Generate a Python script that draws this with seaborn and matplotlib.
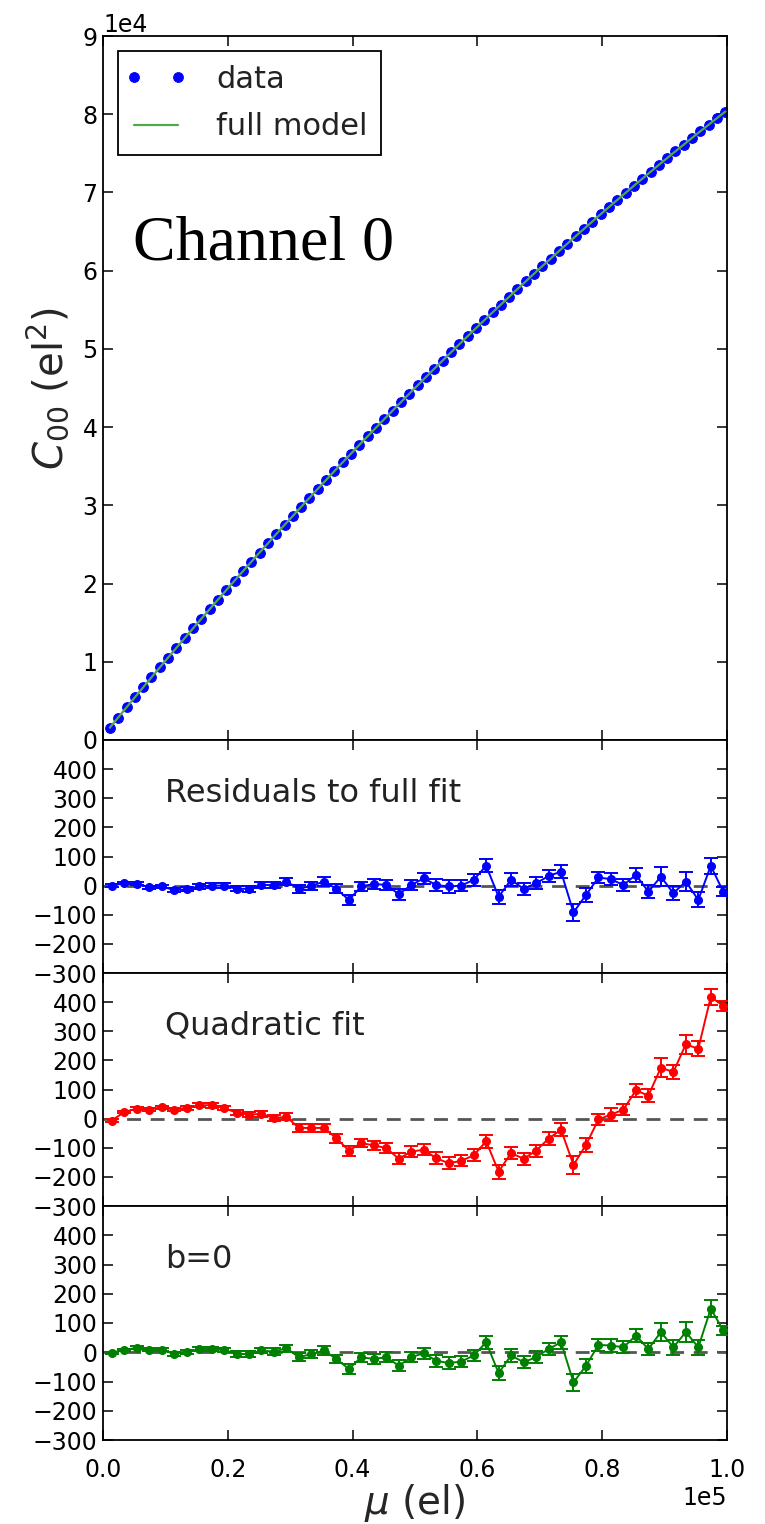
import numpy as np
import pandas as pd
import matplotlib
matplotlib.use("Agg")
import matplotlib.pyplot as plt
import seaborn as sns
from matplotlib.ticker import ScalarFormatter
from matplotlib.legend_handler import HandlerLine2D
from matplotlib.lines import Line2D

# ---------------- data ----------------
mu_data = [1100, 2430, 3770, 5100, 6430, 7770, 9100, 10430, 11760, 13100,
           14430, 15760, 17100, 18430, 19760, 21100, 22430, 23760, 25090, 26430,
           27760, 29090, 30430, 31760, 33090, 34430, 35760, 37090, 38420, 39760,
           41090, 42420, 43760, 45090, 46420, 47760, 49090, 50420, 51750, 53090,
           54420, 55750, 57090, 58420, 59750, 61090, 62420, 63750, 65080, 66420,
           67750, 69080, 70420, 71750, 73080, 74420, 75750, 77080, 78410, 79750,
           81080, 82410, 83750, 85080, 86410, 87750, 89080, 90410, 91740, 93080,
           94410, 95740, 97080, 98410, 99740]
c00_data = [1580, 2870, 4170, 5450, 6730, 8010, 9270, 10530, 11780, 13030,
            14270, 15500, 16730, 17950, 19160, 20380, 21580, 22770, 23960, 25140,
            26320, 27490, 28650, 29810, 30960, 32110, 33240, 34370, 35500, 36620,
            37730, 38830, 39940, 41030, 42110, 43200, 44270, 45340, 46390, 47460,
            48500, 49540, 50580, 51610, 52630, 53650, 54660, 55660, 56650, 57650,
            58630, 59610, 60590, 61550, 62510, 63460, 64410, 65340, 66280, 67210,
            68130, 69040, 69950, 70850, 71740, 72640, 73520, 74390, 75260, 76120,
            76980, 77830, 78670, 79510, 80340]
c00_model = [1580, 2870, 4170, 5450, 6730, 8010, 9270, 10530, 11780, 13030,
             14270, 15500, 16730, 17950, 19160, 20380, 21580, 22770, 23960, 25140,
             26320, 27490, 28650, 29810, 30960, 32110, 33240, 34370, 35500, 36620,
             37730, 38830, 39940, 41030, 42110, 43200, 44270, 45340, 46390, 47460,
             48500, 49540, 50580, 51610, 52630, 53650, 54660, 55660, 56650, 57650,
             58630, 59610, 60590, 61550, 62510, 63460, 64410, 65340, 66280, 67210,
             68130, 69040, 69950, 70850, 71740, 72640, 73520, 74390, 75260, 76120,
             76980, 77830, 78670, 79510, 80340]

mu_res = [1400, 3400, 5400, 7400, 9400, 11400, 13400, 15400, 17400, 19400,
          21400, 23400, 25400, 27400, 29400, 31400, 33400, 35400, 37400, 39400,
          41400, 43400, 45400, 47400, 49400, 51400, 53400, 55400, 57400, 59400,
          61400, 63400, 65400, 67400, 69400, 71400, 73400, 75400, 77400, 79400,
          81400, 83400, 85400, 87400, 89400, 91400, 93400, 95400, 97400, 99400]
res_full = [0, 8, 6, -5, -3, -15, -13, -3, 0, 0,
            -11, -11, 2, 2, 14, -11, -1, 14, -11, -49,
            -3, 6, 2, -29, 2, 25, 2, -3, 0, 20,
            68, -38, 20, -11, 8, 33, 48, -92, -32, 28,
            22, 2, 37, -21, 31, -26, 14, -49, 68, -21]
res_quad = [-7, 23, 34, 31, 39, 31, 37, 46, 46, 37,
            20, 14, 16, 2, 6, -32, -32, -32, -67, -110,
            -84, -92, -101, -138, -113, -107, -136, -153, -145, -126,
            -78, -182, -118, -138, -110, -69, -38, -159, -90, -3,
            14, 31, 97, 79, 175, 160, 255, 240, 418, 387]
res_b0 = [-2, 8, 15, 8, 9, -6, 0, 11, 11, 8,
          -6, -6, 6, 2, 14, -17, -6, 6, -23, -57,
          -17, -23, -17, -46, -17, -3, -29, -37, -32, -11,
          34, -71, -11, -34, -17, 11, 34, -103, -46, 25,
          23, 17, 57, 11, 69, 17, 69, 17, 149, 75]
res_err = [4, 4, 5, 5, 6, 6, 7, 7, 8, 8,
           9, 10, 10, 11, 12, 13, 13, 14, 15, 17,
           15, 16, 17, 19, 18, 19, 20, 21, 19, 20,
           22, 24, 22, 20, 21, 22, 23, 30, 24, 20,
           21, 20, 23, 22, 32, 25, 33, 26, 28, 16]

panel_titles = ["Residuals to full fit", "Quadratic fit", "b=0"]
panel_colors = ["blue", "red", "green"]
res_yticks = [-300, -200, -100, 0, 100, 200, 300, 400]
top_yticks = [0, 10000, 20000, 30000, 40000, 50000, 60000, 70000, 80000, 90000]
xticks = [0, 20000, 40000, 60000, 80000, 100000]

# ---------------- style ----------------
sns.set_style("ticks")
plt.rcParams["font.family"] = ["DejaVu Sans"]
plt.rcParams["mathtext.fontset"] = "dejavusans"
plt.rcParams["axes.linewidth"] = 1.3
plt.rcParams["axes.edgecolor"] = "black"
plt.rcParams["xtick.color"] = "black"
plt.rcParams["ytick.color"] = "black"
plt.rcParams["text.color"] = "#222222"
TICK_FS = 17

fig = plt.figure(figsize=(7.65, 15.24), dpi=100)
W = 765.0
H = 1524.0
left = 103 / W
width = 624 / W

def rect(top_px, bot_px):
    return [left, 1 - bot_px / H, width, (bot_px - top_px) / H]

ax0 = fig.add_axes(rect(36, 740))
axes_res = [fig.add_axes(rect(740, 973), sharex=ax0),
            fig.add_axes(rect(973, 1206), sharex=ax0),
            fig.add_axes(rect(1206, 1440), sharex=ax0)]

def style_ticks(ax):
    ax.tick_params(direction="in", which="major", length=7, width=1.1,
                   top=True, right=True, labelsize=TICK_FS, pad=4)

# ---------------- top panel ----------------
df_top = pd.DataFrame({"mu": mu_data, "c00": c00_data, "model": c00_model})
sns.lineplot(data=df_top, x="mu", y="c00", ax=ax0, color="blue", marker="o",
             markersize=7, markeredgecolor="blue", linestyle="", label="data",
             zorder=2)
sns.lineplot(data=df_top, x="mu", y="model", ax=ax0, color="#4caa4c",
             linewidth=1.6, label="full model", zorder=3)
ax0.set_xlim(0, 100000)
ax0.set_ylim(0, 90000)
ax0.set_yticks(top_yticks)
ax0.set_xticks(xticks)
style_ticks(ax0)
fmt_y = ScalarFormatter()
fmt_y.set_powerlimits((0, 0))
ax0.yaxis.set_major_formatter(fmt_y)
ax0.yaxis.get_offset_text().set_fontsize(TICK_FS)
ax0.tick_params(labelbottom=False)
ax0.xaxis.get_offset_text().set_visible(False)
ax0.set_xlabel("")
ax0.set_ylabel(r"$C_{00}$ (el$^2$)", fontsize=29, labelpad=8)
handles, labels = ax0.get_legend_handles_labels()
leg = ax0.legend(handles, labels, loc="upper left", numpoints=2, fontsize=22,
                 fancybox=False, framealpha=1, edgecolor="black",
                 handlelength=1.55, borderpad=0.45, labelspacing=0.6,
                 handletextpad=1.2, borderaxespad=0.5,
                 handler_map={Line2D: HandlerLine2D(marker_pad=0.05,
                                                    numpoints=2)})
leg.get_frame().set_linewidth(1.3)
ax0.text(0.048, 0.682, "Channel 0", transform=ax0.transAxes,
         fontsize=46, family=["Liberation Serif", "DejaVu Serif"],
         color="black", va="baseline", ha="left")

# ---------------- residual panels ----------------
series = [res_full, res_quad, res_b0]
for i, ax in enumerate(axes_res):
    ax.axhline(0, color="#555555", linestyle=(0, (5, 3.5)), linewidth=2,
               zorder=1)
    ax.errorbar(mu_res, series[i], yerr=res_err, color=panel_colors[i],
                marker="o", markersize=5.5, linewidth=1.4, elinewidth=1.4,
                capsize=5, capthick=1.4, zorder=3)
    ax.set_ylim(-300, 500)
    ax.set_yticks(res_yticks)
    ax.set_xlim(0, 100000)
    style_ticks(ax)
    ax.text(0.1, 0.735, panel_titles[i], transform=ax.transAxes,
            fontsize=23, va="baseline", ha="left")
    if i < 2:
        ax.tick_params(labelbottom=False)
        ax.xaxis.get_offset_text().set_visible(False)

axb = axes_res[2]
fmt_x = ScalarFormatter()
fmt_x.set_powerlimits((0, 0))
axb.xaxis.set_major_formatter(fmt_x)
axb.xaxis.get_offset_text().set_fontsize(TICK_FS)
axb.set_xticks(xticks)
axb.tick_params(axis="x", pad=13)
axb.set_xlabel(r"$\mu$ (el)", fontsize=28, labelpad=0)

fig.savefig("out.png", dpi=100)
